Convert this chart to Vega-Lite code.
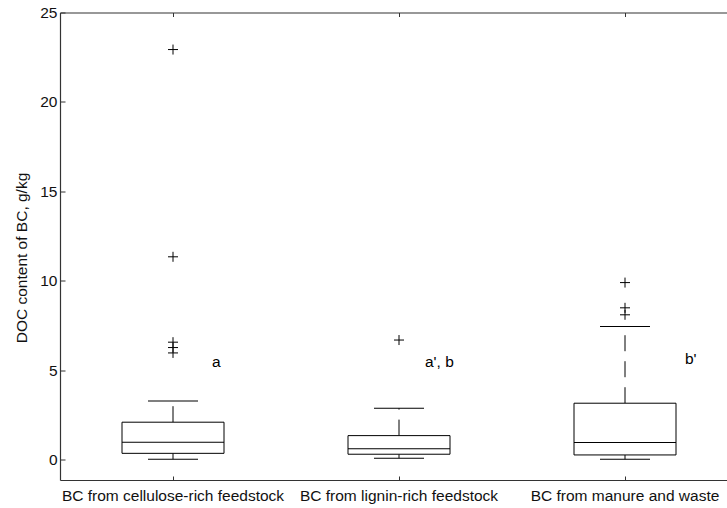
{
  "$schema": "https://vega.github.io/schema/vega-lite/v6.json",
  "width": 667,
  "height": 467.5,
  "autosize": "none",
  "padding": {"left": 60, "top": 12.5, "right": 0, "bottom": 28},
  "background": "white",
  "config": {
    "view": {"stroke": null},
    "font": "Liberation Sans",
    "axis": {"labelFont": "Liberation Sans", "titleFont": "Liberation Sans", "labelFontSize": 15.5, "titleFontSize": 15.5, "titleFontWeight": "normal", "labelColor": "#111", "titleColor": "#111", "domainColor": "#333", "tickColor": "#333", "grid": false, "labelLimit": 0}
  },
  "datasets": {
    "boxes": [
      {"group": "BC from cellulose-rich feedstock", "lower": 0.04, "q1": 0.37, "median": 0.99, "q3": 2.11, "upper": 3.3},
      {"group": "BC from lignin-rich feedstock", "lower": 0.1, "q1": 0.32, "median": 0.62, "q3": 1.36, "upper": 2.89},
      {"group": "BC from manure and waste", "lower": 0.04, "q1": 0.28, "median": 0.97, "q3": 3.17, "upper": 7.45}
    ],
    "outliers": [
      {"group": "BC from cellulose-rich feedstock", "value": 22.93},
      {"group": "BC from cellulose-rich feedstock", "value": 11.35},
      {"group": "BC from cellulose-rich feedstock", "value": 6.58},
      {"group": "BC from cellulose-rich feedstock", "value": 6.28},
      {"group": "BC from cellulose-rich feedstock", "value": 5.98},
      {"group": "BC from lignin-rich feedstock", "value": 6.7},
      {"group": "BC from manure and waste", "value": 9.91},
      {"group": "BC from manure and waste", "value": 8.5},
      {"group": "BC from manure and waste", "value": 8.11}
    ],
    "labels": [
      {"group": "BC from cellulose-rich feedstock", "value": 5.45, "label": "a"},
      {"group": "BC from lignin-rich feedstock", "value": 5.45, "label": "a', b"},
      {"group": "BC from manure and waste", "value": 5.62, "label": "b'"}
    ]
  },
  "layer": [
    {
      "data": {"name": "boxes"},
      "mark": {"type": "rule", "color": "black", "strokeWidth": 1, "strokeDash": [16, 10]},
      "encoding": {
        "x": {"field": "group", "type": "nominal", "sort": null, "scale": {"range": [0, 678], "paddingInner": 0, "paddingOuter": 0},
              "axis": {"title": null, "labelAngle": 0, "tickSize": -4, "labelPadding": 12, "domainWidth": 1.2}},
        "y": {"field": "q3", "type": "quantitative", "scale": {"domain": [-1.12, 25], "nice": false, "zero": false},
              "axis": {"title": "DOC content of BC, g/kg", "values": [0, 5, 10, 15, 20, 25], "tickSize": -5, "labelPadding": 8, "titlePadding": 10, "titleY": 245, "domainWidth": 1.2}},
        "y2": {"field": "upper"}
      }
    },
    {
      "data": {"name": "boxes"},
      "mark": {"type": "rule", "color": "black", "strokeWidth": 1, "strokeDash": [16, 10]},
      "encoding": {
        "x": {"field": "group", "type": "nominal", "sort": null, "axis": null},
        "y": {"field": "q1", "type": "quantitative", "axis": null},
        "y2": {"field": "lower"}
      }
    },
    {
      "data": {"name": "boxes"},
      "mark": {"type": "bar", "size": 102, "fill": "white", "stroke": "black", "strokeWidth": 1},
      "encoding": {
        "x": {"field": "group", "type": "nominal", "sort": null, "axis": null},
        "y": {"field": "q1", "type": "quantitative", "axis": null},
        "y2": {"field": "q3"}
      }
    },
    {
      "data": {"name": "boxes"},
      "mark": {"type": "tick", "size": 102, "thickness": 1, "color": "black", "opacity": 1},
      "encoding": {
        "x": {"field": "group", "type": "nominal", "sort": null, "axis": null},
        "y": {"field": "median", "type": "quantitative", "axis": null}
      }
    },
    {
      "data": {"name": "boxes"},
      "mark": {"type": "tick", "size": 50, "thickness": 1, "color": "black", "opacity": 1},
      "encoding": {
        "x": {"field": "group", "type": "nominal", "sort": null, "axis": null},
        "y": {"field": "upper", "type": "quantitative", "axis": null}
      }
    },
    {
      "data": {"name": "boxes"},
      "mark": {"type": "tick", "size": 50, "thickness": 1, "color": "black", "opacity": 1},
      "encoding": {
        "x": {"field": "group", "type": "nominal", "sort": null, "axis": null},
        "y": {"field": "lower", "type": "quantitative", "axis": null}
      }
    },
    {
      "data": {"name": "outliers"},
      "mark": {"type": "point", "shape": "M-1,0H1M0,-1V1", "size": 100, "filled": false, "stroke": "black", "strokeWidth": 1, "opacity": 1},
      "encoding": {
        "x": {"field": "group", "type": "nominal", "sort": null,
              "axis": {"orient": "top", "title": null, "labels": false, "tickSize": -4, "domainWidth": 1.2}},
        "y": {"field": "value", "type": "quantitative", "axis": null}
      }
    },
    {
      "data": {"name": "labels"},
      "transform": [{"filter": "datum.label === 'a'"}],
      "mark": {"type": "text", "align": "left", "baseline": "middle", "dx": 39, "fontSize": 15.5, "color": "black", "font": "Liberation Sans"},
      "encoding": {
        "x": {"field": "group", "type": "nominal", "sort": null, "axis": null},
        "y": {"field": "value", "type": "quantitative", "axis": null},
        "text": {"field": "label"}
      }
    },
    {
      "data": {"name": "labels"},
      "transform": [{"filter": "datum.label === \"a', b\""}],
      "mark": {"type": "text", "align": "left", "baseline": "middle", "dx": 26, "fontSize": 15.5, "color": "black", "font": "Liberation Sans"},
      "encoding": {
        "x": {"field": "group", "type": "nominal", "sort": null, "axis": null},
        "y": {"field": "value", "type": "quantitative", "axis": null},
        "text": {"field": "label"}
      }
    },
    {
      "data": {"name": "labels"},
      "transform": [{"filter": "datum.label === \"b'\""}],
      "mark": {"type": "text", "align": "left", "baseline": "middle", "dx": 60, "fontSize": 15.5, "color": "black", "font": "Liberation Sans"},
      "encoding": {
        "x": {"field": "group", "type": "nominal", "sort": null, "axis": null},
        "y": {"field": "value", "type": "quantitative", "axis": null},
        "text": {"field": "label"}
      }
    }
  ],
  "resolve": {"axis": {"x": "independent", "y": "independent"}}
}
